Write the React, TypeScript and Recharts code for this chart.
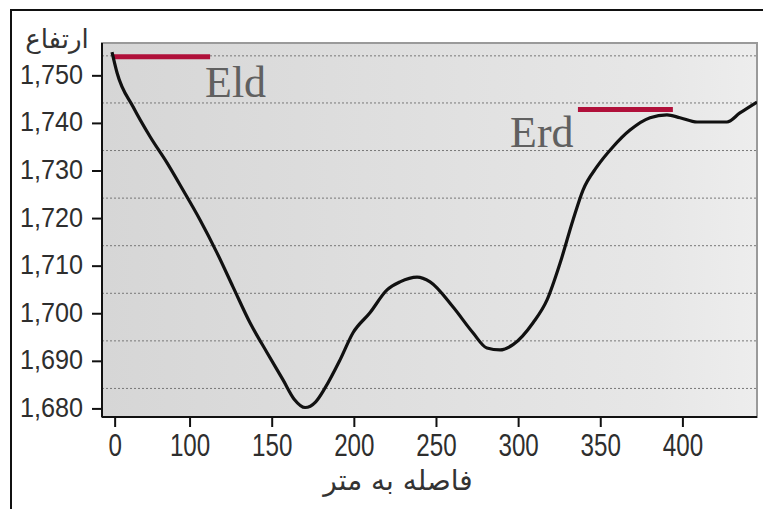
import React from "react";
import {
  CartesianGrid,
  Line,
  LineChart,
  ReferenceArea,
  ReferenceDot,
  ReferenceLine,
  XAxis,
  YAxis,
} from "recharts";

// profile: distance along the section and elevation
const distance = [
  52.5, 55.6, 65.3, 75.7, 86.0, 95.7, 106.1, 116.4, 126.2, 136.5, 146.9, 156.6, 163.5, 170.0,
  176.5, 182.0, 191.3, 199.2, 209.5, 219.9, 227.8, 238.2, 246.1, 260.1, 272.2, 280.7, 288.7,
  296.6, 308.8, 317.3, 325.3, 333.1, 339.2, 347.7, 357.5, 367.8, 380.0, 390.3, 398.2, 408.6,
  426.8, 434.7, 445.1,
];
const elevation = [
  1755.0, 1750.6, 1743.5, 1737.2, 1731.7, 1726.0, 1719.7, 1712.8, 1705.6, 1698.1, 1691.8,
  1686.1, 1682.0, 1680.3, 1681.5, 1684.3, 1690.3, 1696.0, 1700.2, 1705.0, 1706.7, 1707.7,
  1706.7, 1701.4, 1696.0, 1692.8, 1692.4, 1693.5, 1698.1, 1702.9, 1710.7, 1719.7, 1726.0,
  1730.9, 1735.1, 1738.6, 1741.2, 1741.8, 1741.2, 1740.3, 1740.3, 1742.2, 1744.5,
];

const xTicks = [54.4, 100, 150, 200, 250, 300, 350, 400];
const xTickLabels = ["0", "100", "150", "200", "250", "300", "350", "400"];
const yTicks = [1680, 1690, 1700, 1710, 1720, 1730, 1740, 1750];
const gridLevels = [1684.3, 1694.3, 1704.3, 1714.3, 1724.3, 1734.3, 1744.3, 1754.2];

// the two red level marks
const eldLevel = 1754.0;
const eldRange = [52.5, 112.2];
const erdLevel = 1742.9;
const erdRange = [336.1, 393.9];
const eldText = { x: 109.1, y: 1745.6 };
const erdText = { x: 294.8, y: 1735.1 };

const xDomain = [46.4, 445.1];
const yDomain = [1678.3, 1756.9];

const data = distance.map((d, i) => ({ d, h: elevation[i] }));

const XTick = (props: any) => {
  const { x, y, payload } = props;
  const label = xTickLabels[xTicks.indexOf(payload.value)];
  return (
    <g transform={`translate(${x},${y})`}>
      <text
        transform="scale(0.78,1)"
        y={29}
        textAnchor="middle"
        fontFamily="'Liberation Sans Narrow', 'Liberation Sans', sans-serif"
        fontSize={31}
        fill="#2e2e2e"
      >
        {label}
      </text>
    </g>
  );
};

const YTick = (props: any) => {
  const { x, y, payload } = props;
  return (
    <g transform={`translate(${x},${y})`}>
      <text
        transform="scale(0.9,1)"
        y={8}
        textAnchor="end"
        fontFamily="'Liberation Sans', sans-serif"
        fontSize={28}
        fill="#2e2e2e"
      >
        {payload.value.toLocaleString("en-US")}
      </text>
    </g>
  );
};

const NoteLabel = (props: any) => {
  const { viewBox, text } = props;
  return (
    <text
      x={viewBox.x}
      y={viewBox.y}
      fontFamily="'Liberation Serif', serif"
      fontSize={44}
      fill="#606060"
    >
      {text}
    </text>
  );
};

const YTitle = (props: any) => (
  <text
    x={57}
    y={props.viewBox.y + 5}
    textAnchor="middle"
    fontFamily="'DejaVu Sans', sans-serif"
    fontSize={26}
    fill="#333"
  >
    ارتفاع
  </text>
);

const XTitle = (props: any) => (
  <text
    x={398}
    y={props.viewBox.y + 73}
    textAnchor="middle"
    fontFamily="'DejaVu Sans', sans-serif"
    fontSize={28}
    fill="#333"
  >
    فاصله به متر
  </text>
);

export default function App() {
  return (
    <div style={{ position: "absolute", left: 0, top: 0, width: 763, height: 509, background: "#fff" }}>
      <svg width={0} height={0} style={{ position: "absolute" }}>
        <defs>
          <linearGradient id="plotBg" x1="0" y1="0" x2="1" y2="0">
            <stop offset="0%" stopColor="#d6d6d6" />
            <stop offset="55%" stopColor="#e1e1e1" />
            <stop offset="85%" stopColor="#e7e7e7" />
            <stop offset="100%" stopColor="#ededed" />
          </linearGradient>
        </defs>
      </svg>
      <div
        style={{
          position: "absolute",
          left: 10,
          top: 9,
          width: 760,
          height: 510,
          borderLeft: "2px solid #111",
          borderTop: "2px solid #111",
        }}
      />
      <div style={{ position: "absolute", left: 0, top: 0 }}>
        <LineChart width={763} height={509} data={data} margin={{ top: 43, right: 6, bottom: 0, left: 0 }}>
          <CartesianGrid
            vertical={false}
            horizontalValues={gridLevels}
            stroke="#777"
            strokeDasharray="2 2"
            fill="url(#plotBg)"
            fillOpacity={1}
          />
          <ReferenceArea
            x1={xDomain[0]}
            x2={xDomain[1]}
            y1={yDomain[0]}
            y2={yDomain[1]}
            fill="none"
            stroke="#9a9a9a"
            strokeWidth={2}
          />
          <XAxis
            type="number"
            dataKey="d"
            domain={xDomain}
            allowDataOverflow
            ticks={xTicks}
            tick={<XTick />}
            tickSize={10}
            tickMargin={0}
            height={92}
            interval={0}
            axisLine={{ stroke: "#111", strokeWidth: 2 }}
            tickLine={{ stroke: "#111", strokeWidth: 2 }}
            label={<XTitle />}
          />
          <YAxis
            type="number"
            domain={yDomain}
            allowDataOverflow
            ticks={yTicks}
            tick={<YTick />}
            tickSize={10}
            tickMargin={9}
            width={102}
            interval={0}
            axisLine={{ stroke: "#111", strokeWidth: 2 }}
            tickLine={{ stroke: "#111", strokeWidth: 2 }}
            label={<YTitle />}
          />
          <ReferenceLine
            stroke="#b0103a"
            strokeWidth={5}
            segment={[
              { x: eldRange[0], y: eldLevel },
              { x: eldRange[1], y: eldLevel },
            ]}
          />
          <ReferenceLine
            stroke="#b0103a"
            strokeWidth={5}
            segment={[
              { x: erdRange[0], y: erdLevel },
              { x: erdRange[1], y: erdLevel },
            ]}
          />
          <ReferenceDot x={eldText.x} y={eldText.y} r={0} stroke="none" label={<NoteLabel text="Eld" />} />
          <ReferenceDot x={erdText.x} y={erdText.y} r={0} stroke="none" label={<NoteLabel text="Erd" />} />
          <Line
            type="monotone"
            dataKey="h"
            stroke="#111"
            strokeWidth={3.2}
            dot={false}
            isAnimationActive={false}
          />
        </LineChart>
      </div>
    </div>
  );
}
